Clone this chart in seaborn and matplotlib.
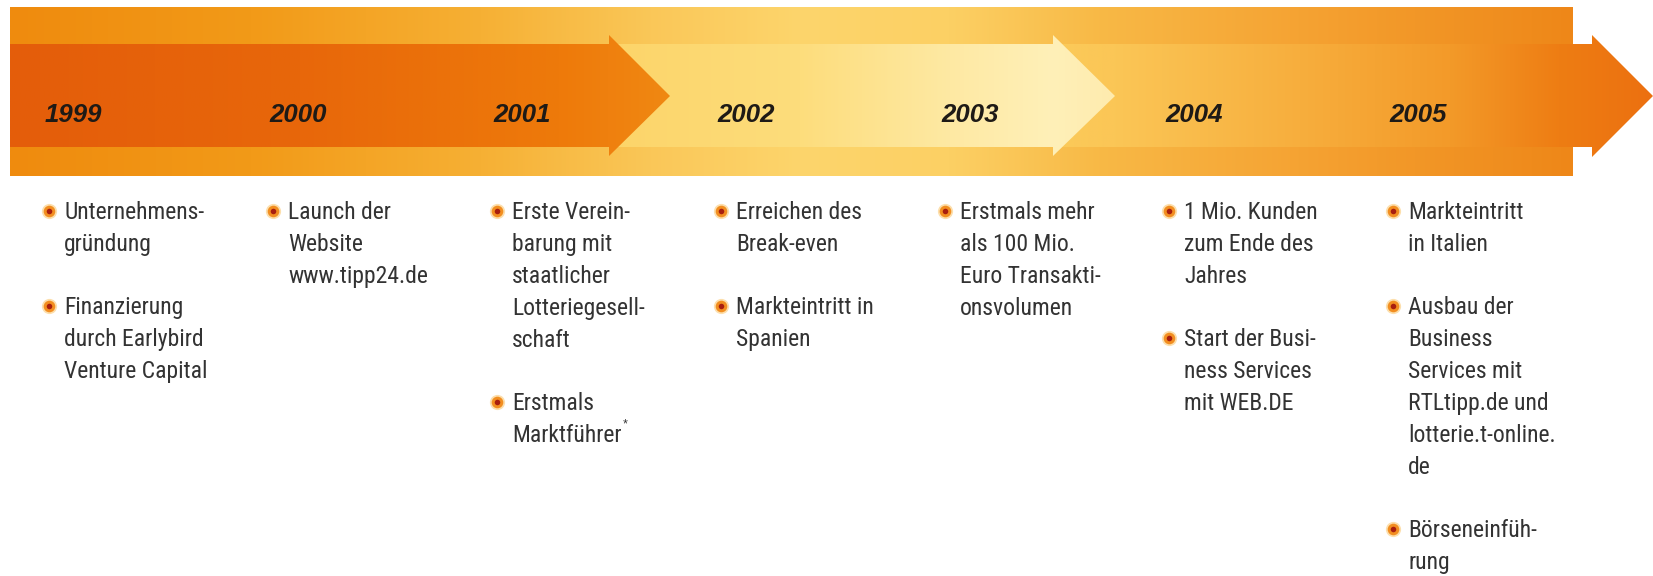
import numpy as np
import pandas as pd
import matplotlib
matplotlib.use("Agg")
import matplotlib.pyplot as plt
from matplotlib.patches import Polygon
from matplotlib.colors import to_rgb
from matplotlib import font_manager
import seaborn as sns

# ---------------- data ----------------
years = ["1999", "2000", "2001", "2002", "2003", "2004", "2005"]
events_1999 = ["Unternehmens-\ngründung",
               "Finanzierung\ndurch Earlybird\nVenture Capital"]
events_2000 = ["Launch der\nWebsite\nwww.tipp24.de"]
events_2001 = ["Erste Verein-\nbarung mit\nstaatlicher\nLotteriegesell-\nschaft",
               "Erstmals\nMarktführer*"]
events_2002 = ["Erreichen des\nBreak-even",
               "Markteintritt in\nSpanien"]
events_2003 = ["Erstmals mehr\nals 100 Mio.\nEuro Transakti-\nonsvolumen"]
events_2004 = ["1 Mio. Kunden\nzum Ende des\nJahres",
               "Start der Busi-\nness Services\nmit WEB.DE"]
events_2005 = ["Markteintritt\nin Italien",
               "Ausbau der\nBusiness\nServices mit\nRTLtipp.de und\nlotterie.t-online.\nde",
               "Börseneinfüh-\nrung"]
events = [events_1999, events_2000, events_2001, events_2002,
          events_2003, events_2004, events_2005]

# ---------------- style ----------------
sns.set_theme(style="white")
plt.rcParams['font.family'] = ['Liberation Sans', 'DejaVu Sans']


def pick_body_font():
    cands = [("Roboto Condensed", "normal", 17.0, None),
             ("Liberation Sans Narrow", "normal", 17.0, None),
             ("Noto Sans", "condensed", 16.0, "condensed"),
             ("Open Sans", "condensed", 15.5, "condensed")]
    for fam, stretch, size, must in cands:
        try:
            fp = font_manager.FontProperties(family=fam, stretch=stretch)
            path = font_manager.findfont(fp, fallback_to_default=False)
        except Exception:
            continue
        if must and must not in path.lower():
            continue
        return font_manager.FontProperties(fname=path, size=size)
    return font_manager.FontProperties(family="Liberation Sans", size=14.8)


BODY_FP = pick_body_font()

W, H = 1653, 576
fig = plt.figure(figsize=(W / 100, H / 100), dpi=100)
fig.patch.set_facecolor("white")
ax = fig.add_axes([0, 0, 1, 1])
ax.set_facecolor("white")


def gradient(stops, x0, x1):
    xs = np.linspace(x0, x1, 400)
    px = [s[0] for s in stops]
    cols = np.array([to_rgb(s[1]) for s in stops])
    img = np.stack([np.interp(xs, px, cols[:, k]) for k in range(3)], axis=-1)
    return img[np.newaxis, :, :]


def band(poly, stops, z):
    xs = [p[0] for p in poly]
    ys = [p[1] for p in poly]
    x0, x1 = min(xs), max(xs)
    patch = Polygon(poly, closed=True, facecolor="none", edgecolor="none",
                    transform=ax.transData, zorder=z)
    ax.add_patch(patch)
    im = ax.imshow(gradient(stops, x0, x1), extent=[x0, x1, max(ys), min(ys)],
                   aspect="auto", interpolation="bilinear", zorder=z)
    im.set_clip_path(patch)


# outer band
outer = [(10, 7), (1573, 7), (1573, 176), (10, 176)]
band(outer, [(10, '#EF8B0E'), (250, '#F29A18'), (480, '#F6B034'),
             (650, '#FAC758'), (800, '#FDD56C'), (950, '#FCD064'),
             (1100, '#F8B946'), (1300, '#F5A333'), (1573, '#EE8718')], 1)


def arrow(xl, xb, xt, top=44, bot=147, htop=35, hbot=156, ymid=96):
    return [(xl, top), (xb, top), (xb, htop), (xt, ymid), (xb, hbot),
            (xb, bot), (xl, bot)]


band(arrow(1045, 1592, 1653, hbot=157),
     [(1045, '#FBCB5A'), (1115, '#FBC656'), (1300, '#F7AE3D'),
      (1450, '#F39A29'), (1560, '#EE7D13'), (1653, '#EC7010')], 2)
band(arrow(600, 1053, 1115),
     [(600, '#FCD468'), (800, '#FDDD7C'), (950, '#FEE9A3'),
      (1053, '#FFF0B8'), (1115, '#FEEBAE')], 3)
band(arrow(10, 609, 670),
     [(10, '#E45D0A'), (300, '#E8670A'), (560, '#EE7A0A'),
      (609, '#EF800E'), (670, '#F08812')], 4)

# ---------------- years ----------------
col_x = [49 + 224 * i for i in range(len(years))]
for x, yr in zip(col_x, years):
    ax.text(x - 4, 122, yr, fontsize=18.5, fontweight="bold", fontstyle="italic",
            color="#1E1A16", va="baseline", ha="left", zorder=6)

# ---------------- events ----------------
LINE = 32
GAP = 63
rows = []
text_items = []
for x, evs in zip(col_x, events):
    y = 211
    for ev in evs:
        lines = ev.split("\n")
        rows.append({"x": x, "y": y})
        for k, ln in enumerate(lines):
            text_items.append((x + 15, y + k * LINE, ln))
        y += (len(lines) - 1) * LINE + GAP

bullets = pd.DataFrame(rows)
sns.scatterplot(data=bullets, x="x", y="y", s=120, color="#FBC56A", alpha=0.55,
                linewidth=0, ax=ax, legend=False, zorder=5)
sns.scatterplot(data=bullets, x="x", y="y", s=70, color="#F28E20",
                linewidth=0, ax=ax, legend=False, zorder=5)
sns.scatterplot(data=bullets, x="x", y="y", s=16, color="#A81E0E",
                linewidth=0, ax=ax, legend=False, zorder=5)

star_texts = []
for tx, ty, ln in text_items:
    star = ln.endswith("*")
    s = ln[:-1] if star else ln
    t = ax.text(tx, ty + 8, s, fontproperties=BODY_FP, color="#333333",
                va="baseline", ha="left", zorder=6)
    if star:
        star_texts.append((t, ty))

ax.set_xlim(0, W)
ax.set_ylim(H, 0)
ax.axis("off")

fig.canvas.draw()
renderer = fig.canvas.get_renderer()
inv = ax.transData.inverted()
for t, ty in star_texts:
    bb = t.get_window_extent(renderer)
    xr, _ = inv.transform((bb.x1, bb.y0))
    ax.text(xr + 1, ty - 7, "*", fontsize=9, color="#333333",
            va="baseline", ha="left", zorder=6)

fig.savefig("out.png", dpi=100, facecolor="white")
